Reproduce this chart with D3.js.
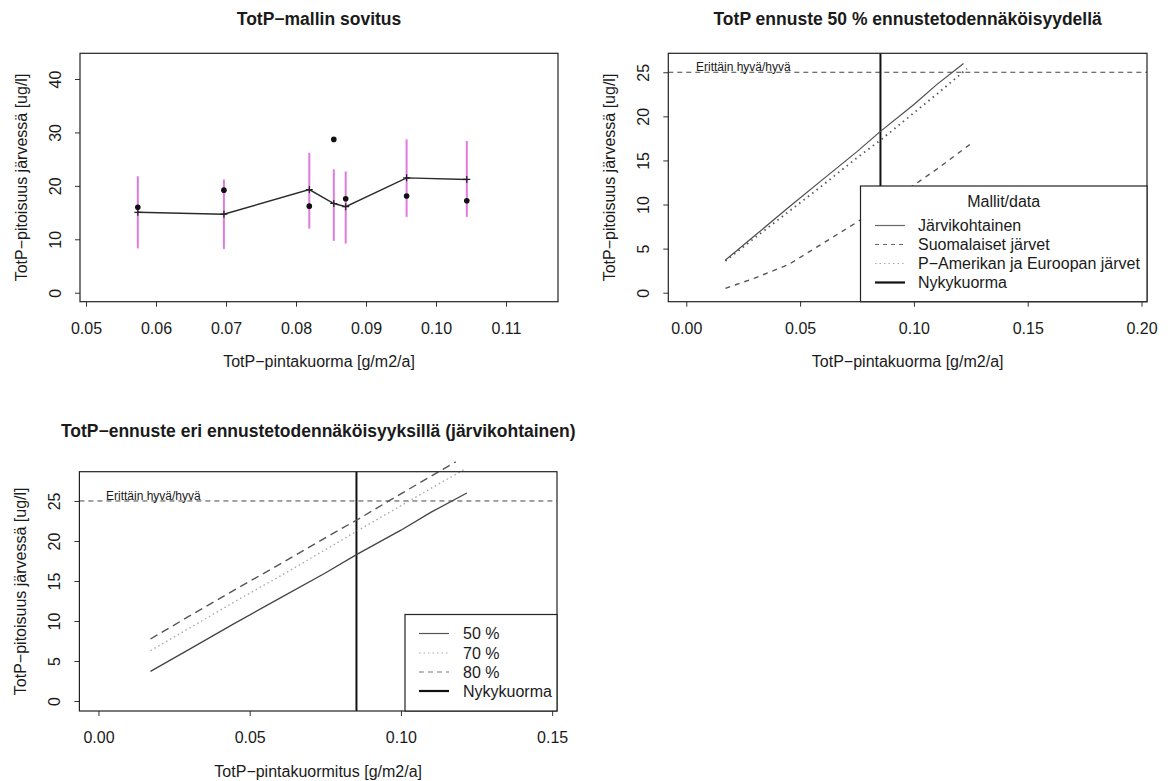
<!DOCTYPE html>
<html><head><meta charset="utf-8">
<script src="https://cdn.jsdelivr.net/npm/d3@7"></script>
<style>
body{margin:0;background:#fff;}
svg text{font-family:"Liberation Sans",Arial,Helvetica,sans-serif;fill:#1a1a1a;}
</style></head><body>
<svg id="chart" width="1169" height="781"></svg>
<script>
// --- TotP-mallin sovitus: observed vs fitted concentration per lake load ---
const fitLoad      = [0.0574, 0.0697, 0.0819, 0.0854, 0.0871, 0.0958, 0.1044];
const fitObserved  = [16.0, 19.2, 16.2, 28.7, 17.6, 18.1, 17.2];
const fitPredicted = [15.05, 14.7, 19.3, 16.7, 16.1, 21.5, 21.2];
const fitLower     = [8.3, 8.2, 12.0, 9.7, 9.2, 14.2, 14.2];
const fitUpper     = [21.8, 21.2, 26.2, 23.1, 22.7, 28.7, 28.4];
const fitXTicks    = [0.05, 0.06, 0.07, 0.08, 0.09, 0.10, 0.11];
const fitYTicks    = [0, 10, 20, 30, 40];

// --- TotP ennuste 50 %: three model forecasts ---
const lakeLoad     = [0.0172, 0.03, 0.045, 0.06, 0.075, 0.0853, 0.10, 0.11, 0.1218];
const lakeSpecific = [3.7, 6.45, 9.7, 12.85, 16.0, 18.3, 21.35, 23.6, 26.0];
const finnishLoad  = [0.0172, 0.03, 0.045, 0.06, 0.075, 0.0853, 0.10, 0.11, 0.1245];
const finnishLakes = [0.5, 1.65, 3.2, 5.6, 8.0, 9.8, 12.2, 14.0, 16.8];
const naEuLoad     = [0.0172, 0.03, 0.045, 0.06, 0.075, 0.0853, 0.10, 0.11, 0.1233];
const naEuLakes    = [3.6, 6.2, 9.2, 12.2, 15.3, 17.3, 20.4, 22.5, 25.4];
const forecastXTicks = [0.00, 0.05, 0.10, 0.15, 0.20];
const forecastYTicks = [0, 5, 10, 15, 20, 25];

// --- TotP-ennuste eri ennustetodennäköisyyksillä (järvikohtainen) ---
const p70Load   = [0.0172, 0.03, 0.045, 0.06, 0.075, 0.0853, 0.10, 0.11, 0.1208];
const p70Values = [6.3, 9.1, 12.4, 15.6, 18.9, 21.2, 24.4, 26.6, 28.9];
const p80Load   = [0.0172, 0.03, 0.045, 0.06, 0.075, 0.0853, 0.10, 0.11, 0.1181];
const p80Values = [7.75, 10.6, 13.9, 17.1, 20.4, 22.6, 25.9, 28.1, 29.9];
const probXTicks = [0.00, 0.05, 0.10, 0.15];
const probYTicks = [0, 5, 10, 15, 20, 25];

const currentLoad = 0.0853;   // nykykuorma
const classLimit  = 25;       // erittäin hyvä / hyvä raja
const classLabel  = "Erittäin hyvä/hyvä";

const FONT = 16;
const svg = d3.select("#chart");
svg.append("rect").attr("width", 1169).attr("height", 781).attr("fill", "#fff");

function makePanel(cfg) {
  const g = svg.append("g");
  const x = d3.scaleLinear().domain(cfg.xDomain).range([cfg.left, cfg.right]);
  const y = d3.scaleLinear().domain(cfg.yDomain).range([cfg.bottom, cfg.top]);

  const xa = g.append("g").attr("transform", `translate(0,${cfg.bottom})`)
    .call(d3.axisBottom(x).tickValues(cfg.xTicks).tickFormat(d3.format(".2f")).tickSize(5));
  xa.attr("font-size", null).attr("font-family", null);
  xa.select(".domain").remove();
  xa.selectAll(".tick line").attr("stroke", "#333");
  xa.selectAll(".tick text").attr("y", 26.5).attr("dy", "0.35em")
    .style("font-size", FONT + "px").attr("fill", "#1a1a1a");

  const ya = g.append("g").attr("transform", `translate(${cfg.left},0)`)
    .call(d3.axisLeft(y).tickValues(cfg.yTicks).tickFormat(d3.format("d")).tickSize(5));
  ya.attr("font-size", null).attr("font-family", null);
  ya.select(".domain").remove();
  ya.selectAll(".tick line").attr("stroke", "#333");
  ya.selectAll(".tick text").attr("transform", "rotate(-90)")
    .attr("x", 0).attr("y", -25).attr("dy", "0.35em")
    .attr("text-anchor", "middle")
    .style("font-size", FONT + "px").attr("fill", "#1a1a1a");

  const cx = (cfg.left + cfg.right) / 2, cy = (cfg.top + cfg.bottom) / 2;
  g.append("text").attr("x", cx).attr("y", cfg.titleY).attr("dy", "0.35em")
    .attr("text-anchor", "middle").style("font-size", "17.5px").style("font-weight", "bold")
    .text(cfg.title);
  g.append("text").attr("x", cx).attr("y", cfg.bottom + 60).attr("dy", "0.35em")
    .attr("text-anchor", "middle").style("font-size", FONT + "px").text(cfg.xLabel);
  g.append("text").attr("transform", `translate(${cfg.left - 59},${cy}) rotate(-90)`)
    .attr("dy", "0.35em").attr("text-anchor", "middle")
    .style("font-size", FONT + "px").text(cfg.yLabel);

  const plot = g.append("g");
  return { g, plot, x, y, cfg };
}

function drawBox(p) {
  const c = p.cfg;
  p.g.append("rect").attr("x", c.left).attr("y", c.top)
    .attr("width", c.right - c.left).attr("height", c.bottom - c.top)
    .attr("fill", "none").attr("stroke", "#222").attr("stroke-width", 1.2);
}

function drawSeries(p, xs, ys, style) {
  const line = d3.line().x(d => p.x(d[0])).y(d => p.y(d[1]));
  p.plot.append("path").datum(d3.zip(xs, ys)).attr("d", line)
    .attr("fill", "none").attr("stroke", style.color)
    .attr("stroke-width", style.width).attr("stroke-dasharray", style.dash || null)
    .attr("stroke-linecap", style.cap || "butt");
}

function drawReferenceLines(p) {
  const c = p.cfg;
  p.plot.append("line").attr("x1", c.left).attr("x2", c.right)
    .attr("y1", p.y(classLimit)).attr("y2", p.y(classLimit))
    .attr("stroke", "#444").attr("stroke-width", 1).attr("stroke-dasharray", "5,4");
  p.plot.append("text").attr("x", c.labelX).attr("y", p.y(classLimit) - 1)
    .style("font-size", "12px").text(classLabel);
  p.plot.append("line").attr("x1", p.x(currentLoad)).attr("x2", p.x(currentLoad))
    .attr("y1", c.top).attr("y2", c.bottom).attr("stroke", "#111").attr("stroke-width", 2);
}

function drawLegend(p, box, title, items) {
  const lg = p.g.append("g");
  lg.append("rect").attr("x", box.x0).attr("y", box.y0)
    .attr("width", box.x1 - box.x0).attr("height", box.y1 - box.y0)
    .attr("fill", "#fff").attr("stroke", "#222").attr("stroke-width", 1.2);
  if (title) {
    lg.append("text").attr("x", (box.x0 + box.x1) / 2).attr("y", box.titleY).attr("dy", "0.35em")
      .attr("text-anchor", "middle").style("font-size", FONT + "px").text(title);
  }
  items.forEach((it, i) => {
    const yy = box.rows[i];
    lg.append("line").attr("x1", box.lx0).attr("x2", box.lx1).attr("y1", yy).attr("y2", yy)
      .attr("stroke", it.color).attr("stroke-width", it.width)
      .attr("stroke-dasharray", it.dash || null);
    lg.append("text").attr("x", box.tx).attr("y", yy).attr("dy", "0.35em")
      .style("font-size", FONT + "px").text(it.label);
  });
}

// ---------------- Panel 1 ----------------
const p1 = makePanel({
  left: 80, right: 558, top: 53.3, bottom: 301.7,
  xDomain: [0.04914, 0.11743], yDomain: [-1.68, 44.81],
  xTicks: fitXTicks, yTicks: fitYTicks, titleY: 18.5,
  title: "TotP\u2212mallin sovitus",
  xLabel: "TotP\u2212pintakuorma [g/m2/a]",
  yLabel: "TotP\u2212pitoisuus järvessä [ug/l]"
});
fitLoad.forEach((v, i) => {
  p1.plot.append("line").attr("x1", p1.x(v)).attr("x2", p1.x(v))
    .attr("y1", p1.y(fitLower[i])).attr("y2", p1.y(fitUpper[i]))
    .attr("stroke", "#e07ae0").attr("stroke-width", 2);
});
drawSeries(p1, fitLoad, fitPredicted, { color: "#2a2a2a", width: 1.4 });
fitLoad.forEach((v, i) => {
  const px = p1.x(v), py = p1.y(fitPredicted[i]);
  p1.plot.append("path").attr("d", `M${px - 3.5},${py}H${px + 3.5}M${px},${py - 3.5}V${py + 3.5}`)
    .attr("stroke", "#222").attr("stroke-width", 1.2);
  p1.plot.append("circle").attr("cx", px).attr("cy", p1.y(fitObserved[i])).attr("r", 2.8)
    .attr("fill", "#111");
});
drawBox(p1);

// ---------------- Panel 2 ----------------
const p2 = makePanel({
  left: 668.3, right: 1147, top: 53.3, bottom: 301.7,
  xDomain: [-0.0079, 0.2024], yDomain: [-1.02, 27.15],
  xTicks: forecastXTicks, yTicks: forecastYTicks, titleY: 18.5, labelX: 696,
  title: "TotP ennuste 50 % ennustetodennäköisyydellä",
  xLabel: "TotP\u2212pintakuorma [g/m2/a]",
  yLabel: "TotP\u2212pitoisuus järvessä [ug/l]"
});
drawReferenceLines(p2);
drawSeries(p2, lakeLoad, lakeSpecific, { color: "#4d4d4d", width: 1.2 });
drawSeries(p2, finnishLoad, finnishLakes, { color: "#555", width: 1.4, dash: "5,5" });
drawSeries(p2, naEuLoad, naEuLakes, { color: "#555", width: 1.8, dash: "1.5,4" });
drawBox(p2);
drawLegend(p2, {
  x0: 860.5, x1: 1147, y0: 186, y1: 301.7, titleY: 201,
  rows: [225.5, 244.5, 263.5, 282.5], lx0: 875, lx1: 905, tx: 918
}, "Mallit/data", [
  { label: "Järvikohtainen", color: "#666", width: 1.2 },
  { label: "Suomalaiset järvet", color: "#666", width: 1.2, dash: "4,4" },
  { label: "P\u2212Amerikan ja Euroopan järvet", color: "#aaa", width: 1.2, dash: "1.5,3" },
  { label: "Nykykuorma", color: "#111", width: 2.2 }
]);

// ---------------- Panel 3 ----------------
const p3 = makePanel({
  left: 79.4, right: 557, top: 471.7, bottom: 711,
  xDomain: [-0.0063, 0.1516], yDomain: [-1.25, 28.66],
  xTicks: probXTicks, yTicks: probYTicks, titleY: 431, labelX: 106,
  title: "TotP\u2212ennuste eri ennustetodennäköisyyksillä (järvikohtainen)",
  xLabel: "TotP\u2212pintakuormitus [g/m2/a]",
  yLabel: "TotP\u2212pitoisuus järvessä [ug/l]"
});
drawReferenceLines(p3);
drawSeries(p3, lakeLoad, lakeSpecific, { color: "#444", width: 1.3 });
drawSeries(p3, p70Load, p70Values, { color: "#aaa", width: 1.4, dash: "1.5,3" });
drawSeries(p3, p80Load, p80Values, { color: "#555", width: 1.4, dash: "8,5" });
drawBox(p3);
drawLegend(p3, {
  x0: 405, x1: 557, y0: 614.5, y1: 711, titleY: null,
  rows: [633.5, 653, 672, 691], lx0: 419, lx1: 449, tx: 463
}, null, [
  { label: "50 %", color: "#555", width: 1.2 },
  { label: "70 %", color: "#aaa", width: 1.2, dash: "1.5,3" },
  { label: "80 %", color: "#777", width: 1.2, dash: "5,4" },
  { label: "Nykykuorma", color: "#111", width: 2.2 }
]);
</script>
</body></html>
